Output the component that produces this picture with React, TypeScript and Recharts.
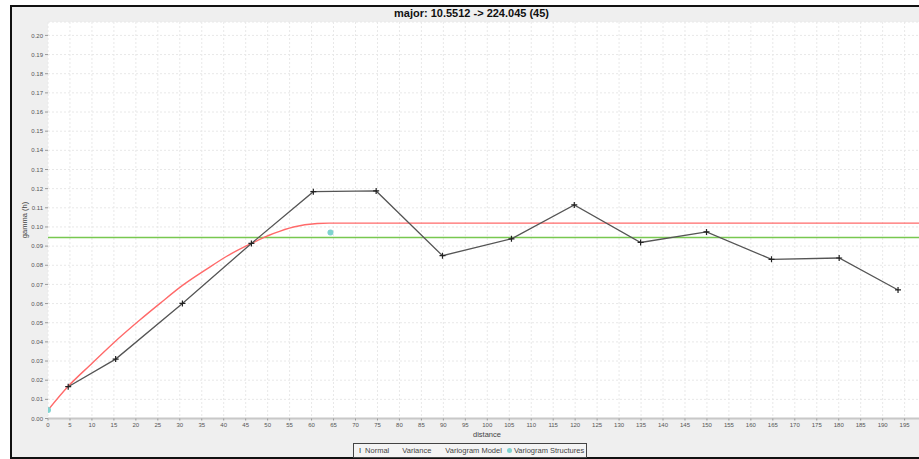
import { ComposedChart, Line, Scatter, XAxis, YAxis, CartesianGrid, ReferenceLine } from "recharts"

// experimental variogram (lag distance -> semivariance)
const lagDistance = [4.6, 15.4, 30.6, 46.3, 60.4, 74.7, 89.8, 105.5, 119.8, 134.9, 149.9, 164.7, 180.1, 193.5]
const semivariance = [0.0166, 0.031, 0.0601, 0.0914, 0.1184, 0.1188, 0.085, 0.0938, 0.1115, 0.0919, 0.0974, 0.0831, 0.0838, 0.0671]

// fitted model
const modelDistance = [0, 4.6, 9.5, 14.8, 20.9, 25.5, 30.7, 36.2, 40.7, 46.3, 51.4, 55.9, 61.3, 64, 198.5]
const modelGamma = [0.0044, 0.0168, 0.0277, 0.0392, 0.0514, 0.0601, 0.0696, 0.0781, 0.0847, 0.0914, 0.0966, 0.1, 0.1018, 0.102, 0.102]

const structureDistance = [0, 64.3]
const structureGamma = [0.0044, 0.0971]

const varianceLevel = 0.0945

const xTicks = [0, 5, 10, 15, 20, 25, 30, 35, 40, 45, 50, 55, 60, 65, 70, 75, 80, 85, 90, 95, 100, 105, 110, 115, 120, 125, 130, 135, 140, 145, 150, 155, 160, 165, 170, 175, 180, 185, 190, 195]
const yTicks = [0, 0.01, 0.02, 0.03, 0.04, 0.05, 0.06, 0.07, 0.08, 0.09, 0.1, 0.11, 0.12, 0.13, 0.14, 0.15, 0.16, 0.17, 0.18, 0.19, 0.2]

const experimental = lagDistance.map((x, i) => ({ x, y: semivariance[i] }))
const model = modelDistance.map((x, i) => ({ x, y: modelGamma[i] }))
const structures = structureDistance.map((x, i) => ({ x, y: structureGamma[i] }))

const FONT = "'Liberation Sans', Arial, sans-serif"

const PlusDot = (props: any) => {
  const { cx, cy, index } = props
  if (cx == null || cy == null) return null
  return (
    <g key={`p-${index}`}>
      <line x1={cx - 3} x2={cx + 3} y1={cy} y2={cy} stroke="#222" strokeWidth={1.2} />
      <line x1={cx} x2={cx} y1={cy - 3} y2={cy + 3} stroke="#222" strokeWidth={1.2} />
    </g>
  )
}

const Dot = (props: any) => {
  const { cx, cy } = props
  return <circle cx={cx} cy={cy} r={3} fill="#7fd3d0" />
}

export default function App() {
  return (
    <div style={{ position: "absolute", left: 0, top: 0, width: 919, height: 459, overflow: "hidden", background: "#fff", fontFamily: FONT }}>
      <div
        style={{
          position: "absolute",
          left: 10,
          top: 5,
          width: 930,
          height: 454,
          boxSizing: "border-box",
          border: "2px solid #111",
          background: "#efefef",
        }}
      />
      <div style={{ position: "absolute", left: 0, top: 0 }}>
        <ComposedChart width={920} height={459} margin={{ top: 22, right: 0, bottom: 0, left: 0 }}>
          <CartesianGrid fill="#fff" stroke="#e8e8e8" strokeDasharray="2 2" />
          <XAxis
            type="number"
            dataKey="x"
            domain={[0, 198.5]}
            ticks={xTicks}
            interval={0}
            allowDataOverflow
            height={40.5}
            tickSize={2}
            tickMargin={2}
            tick={{ fontSize: 6, fill: "#555", fontFamily: FONT }}
            tickLine={{ stroke: "#999" }}
            axisLine={{ stroke: "#c8c8c8", strokeWidth: 2 }}
          />
          <YAxis
            type="number"
            domain={[0, 0.207]}
            ticks={yTicks}
            interval={0}
            allowDataOverflow
            width={48}
            tickSize={3}
            tickMargin={2}
            tickFormatter={(v: number) => v.toFixed(2)}
            tick={{ fontSize: 6, fill: "#555", fontFamily: FONT }}
            tickLine={{ stroke: "#999" }}
            axisLine={false}
          />
          <ReferenceLine y={varianceLevel} stroke="#78c850" strokeWidth={1.5} />
          <Line data={model} dataKey="y" name="Variogram Model" type="monotone" stroke="#ff6a6a" strokeWidth={1.4} dot={false} isAnimationActive={false} />
          <Line data={experimental} dataKey="y" name="Normal" stroke="#555" strokeWidth={1.3} dot={<PlusDot />} isAnimationActive={false} />
          <Scatter data={structures} dataKey="y" name="Variogram Structures" shape={<Dot />} isAnimationActive={false} />
        </ComposedChart>
      </div>
      <div style={{ position: "absolute", left: 394, top: 8, fontSize: 11, lineHeight: "11px", fontWeight: "bold", color: "#111", whiteSpace: "nowrap" }}>
        major: 10.5512 -&gt; 224.045 (45)
      </div>
      <div style={{ position: "absolute", left: 437, top: 430, width: 100, textAlign: "center", fontSize: 7.5, color: "#444" }}>distance</div>
      <div
        style={{
          position: "absolute",
          left: 24,
          top: 220,
          fontSize: 7.5,
          color: "#444",
          whiteSpace: "nowrap",
          transform: "translate(-50%, -50%) rotate(-90deg)",
        }}
      >
        gamma (h)
      </div>
      <div
        style={{
          position: "absolute",
          left: 353,
          top: 443,
          width: 234,
          height: 15,
          boxSizing: "border-box",
          border: "1px solid #444",
          background: "#f4f4f4",
          fontSize: 7.5,
          color: "#444",
          display: "flex",
          alignItems: "center",
          whiteSpace: "nowrap",
        }}
      >
        <span style={{ marginLeft: 5, color: "#222" }}>I</span>
        <span style={{ marginLeft: 4 }}>Normal</span>
        <span style={{ marginLeft: 13 }}>Variance</span>
        <span style={{ marginLeft: 14 }}>Variogram Model</span>
        <span style={{ marginLeft: 5, width: 5, height: 5, borderRadius: 3, background: "#7fd3d0", display: "inline-block" }} />
        <span style={{ marginLeft: 2 }}>Variogram Structures</span>
      </div>
    </div>
  )
}
